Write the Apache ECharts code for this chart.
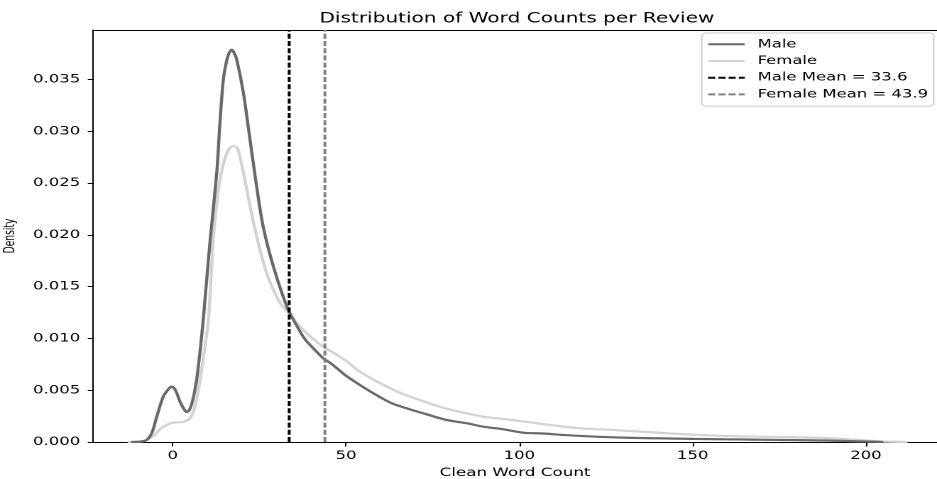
<!DOCTYPE html>
<html>
<head>
<meta charset="utf-8">
<script src="https://cdn.jsdelivr.net/npm/echarts@6/dist/echarts.min.js"></script>
<style>
html,body{margin:0;padding:0;background:#fff;overflow:hidden;width:937px;height:479px;}
#chart{width:660px;height:479px;transform:scaleX(1.41970);transform-origin:0 0;}
</style>
</head>
<body>
<div id="chart"></div>
<script>
// ---- data ----
const maleX = [-12,-9,-7.5,-6,-4.6,-2.7,-1,-0.3,0.8,2.1,3.2,4.0,4.8,5.5,6.2,6.9,7.9,8.8,10.8,12.7,13.6,14.6,15.6,16.3,17.0,17.7,18.5,20.4,22.3,24.2,26.1,29.0,32.9,35,38,41,43.4,46,50,55,60,63.2,68,73,79,85,89.6,95.4,101,107,112.7,120,130,140,150,160,175,190,198,205];
const maleY = [0,0.00005,0.0002,0.0009,0.00245,0.0044,0.0052,0.00535,0.0050,0.0039,0.0032,0.0029,0.0031,0.0037,0.0047,0.0060,0.0088,0.0118,0.0195,0.0260,0.0307,0.0350,0.0369,0.0376,0.0379,0.0376,0.0369,0.0337,0.0292,0.0247,0.0208,0.0170,0.0131,0.0117,0.0100,0.0089,0.0081,0.0075,0.0064,0.0053,0.0043,0.00374,0.0032,0.0027,0.00213,0.0018,0.00148,0.00123,0.0009,0.00082,0.00068,0.00055,0.00042,0.00036,0.0003,0.00026,0.0002,0.00013,0.00006,0];
const femaleX = [-13,-9,-7.5,-5.5,-3.7,-2,-0.8,1,3.1,5.0,6.4,7.9,9.2,10.3,11.7,12.6,13.6,14.6,15.6,16.5,17.5,18.2,18.9,20.4,22.3,24.2,27.1,31.0,33.4,36,40,43.4,46,50.2,53.1,58,64.6,70,77.1,83,89.6,96,103,110,117.5,125,132,145,158,172,187,198,205,212];
const femaleY = [0,0.00005,0.0002,0.0006,0.00123,0.0016,0.0018,0.0019,0.00196,0.0023,0.0034,0.0060,0.0090,0.0118,0.0195,0.0228,0.0253,0.0268,0.0279,0.0284,0.0286,0.0285,0.0282,0.0260,0.0228,0.0199,0.0163,0.0134,0.0125,0.0114,0.0101,0.0092,0.0087,0.0078,0.0070,0.0060,0.0049,0.0042,0.00341,0.0029,0.00245,0.0022,0.0019,0.0016,0.00132,0.0012,0.00106,0.0008,0.0006,0.0005,0.0004,0.0002,0.00005,0];
const maleMean = 33.6;
const femaleMean = 43.9;
const xTicks = [0,50,100,150,200];
const yTicks = [0,0.005,0.010,0.015,0.020,0.025,0.030,0.035];
const seriesNames = ['Male','Female','Male Mean = 33.6','Female Mean = 43.9'];
const titleText = 'Distribution of Word Counts per Review';
const xName = 'Clean Word Count';
const yName = 'Density';

const X_MIN = -23, X_MAX = 220.5, Y_MIN = 0, Y_MAX = 0.0398;
const FONT = 'DejaVu Sans';

const chart = echarts.init(document.getElementById('chart'), null, {renderer:'canvas', devicePixelRatio:2});
const pairs = (xs, ys) => xs.map((x,i)=>[x, ys[i]]);

const option = {
  animation:false,
  backgroundColor:'#ffffff',
  title:{
    text:titleText, left:225, top:12, padding:0,
    textStyle:{fontFamily:FONT,fontSize:14.15,fontWeight:'normal',color:'#000'}
  },
  legend:{
    orient:'vertical', right:2.3, top:33,
    padding:[4.3,4,4.7,3.5],
    itemWidth:25.8, itemHeight:14, itemGap:2.7,
    backgroundColor:'rgba(255,255,255,0.8)', borderColor:'#cccccc', borderWidth:1, borderRadius:3,
    itemStyle:{color:'rgba(0,0,0,0)', borderWidth:0, opacity:0},
    textStyle:{fontFamily:FONT,fontSize:11.6,color:'#000',lineHeight:14,padding:[0,0,0,4]},
    data:seriesNames
  },
  grid:{left:65.5,right:0,top:30,bottom:37,containLabel:false,outerBoundsMode:'none'},
  xAxis:[{
    type:'value', min:X_MIN, max:X_MAX,
    name:xName, nameLocation:'middle', nameGap:16,
    nameTextStyle:{fontFamily:FONT,fontSize:11.8,color:'#000'},
    axisLine:{show:true,onZero:false,lineStyle:{color:'#000',width:1}},
    axisTick:{show:true,length:4.5,customValues:xTicks,lineStyle:{color:'#000'}},
    axisLabel:{customValues:xTicks,margin:8,fontFamily:FONT,fontSize:11.6,color:'#000'},
    splitLine:{show:false}
  },{
    type:'value', min:X_MIN, max:X_MAX, position:'top',
    axisLine:{show:true,onZero:false,lineStyle:{color:'#000',width:1}},
    axisTick:{show:false}, axisLabel:{show:false}, splitLine:{show:false}
  }],
  yAxis:{
    type:'value', min:Y_MIN, max:Y_MAX,
    name:yName, nameLocation:'middle', nameGap:44,
    nameTextStyle:{fontFamily:"'Liberation Sans Narrow', 'DejaVu Sans Condensed', 'DejaVu Sans'",fontSize:10.2,color:'#000'},
    axisLine:{show:true,onZero:false,lineStyle:{color:'#000',width:1}},
    axisTick:{show:true,length:3.7,customValues:yTicks,lineStyle:{color:'#000'}},
    axisLabel:{customValues:yTicks,margin:9,fontFamily:FONT,fontSize:11.6,color:'#000',
      formatter:v=>v.toFixed(3)},
    splitLine:{show:false}
  },
  series:[
    {name:seriesNames[0],type:'line',data:pairs(maleX,maleY),symbol:'none',smooth:0.3,
     lineStyle:{color:'#696969',width:2.2},itemStyle:{color:'#696969'},z:3},
    {name:seriesNames[1],type:'line',data:pairs(femaleX,femaleY),symbol:'none',smooth:0.3,
     lineStyle:{color:'#d3d3d3',width:2.2},itemStyle:{color:'#d3d3d3'},z:2},
    {name:seriesNames[2],type:'line',data:[[maleMean,Y_MIN],[maleMean,Y_MAX]],symbol:'none',
     lineStyle:{color:'#000000',width:2,type:[5,2.2]},itemStyle:{color:'#000000'},z:4},
    {name:seriesNames[3],type:'line',data:[[femaleMean,Y_MIN],[femaleMean,Y_MAX]],symbol:'none',
     lineStyle:{color:'#808080',width:2,type:[5,2.2]},itemStyle:{color:'#808080'},z:4}
  ]
};
chart.setOption(option);
</script>
</body>
</html>
